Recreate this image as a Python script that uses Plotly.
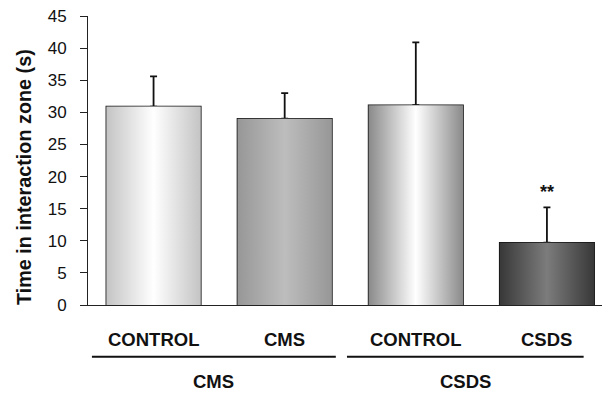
import plotly.graph_objects as go

# Group / condition labels and measured values (mean time, SEM)
conditions = ["CONTROL", "CMS", "CONTROL", "CSDS"]
groups = ["CMS", "CSDS"]
means = [30.9, 29.0, 31.1, 9.7]
sems = [4.7, 4.0, 9.8, 5.5]
significance = ["", "", "", "**"]
y_title = "Time in interaction zone (s)"

# Cylinder-like shading for each bar: edge colour, centre colour
edge_colors = ["#c4c4c4", "#979797", "#8a8a8a", "#383838"]
center_colors = ["#ffffff", "#bdbdbd", "#ffffff", "#7c7c7c"]

BAR_W = 0.72
xs = list(range(len(conditions)))
FONT = "Liberation Sans, Arial, sans-serif"
INK = "#111111"

fig = go.Figure()

# Gradient-filled bar bodies
for x, m, ec, cc in zip(xs, means, edge_colors, center_colors):
    x0, x1 = x - BAR_W / 2, x + BAR_W / 2
    fig.add_trace(go.Scatter(
        x=[x0, x1, x1, x0, x0], y=[0, 0, m, m, 0],
        mode="lines", fill="toself", line=dict(width=0),
        fillgradient=dict(type="horizontal",
                          colorscale=[[0, ec], [0.5, cc], [1, ec]]),
        hoverinfo="skip", showlegend=False,
    ))

# Outlines and upward SEM error bars
fig.add_trace(go.Bar(
    x=xs, y=means, width=BAR_W,
    marker=dict(color="rgba(0,0,0,0)", line=dict(color=INK, width=1.6)),
    error_y=dict(type="data", symmetric=False, array=sems,
                 arrayminus=[0] * len(sems), color=INK,
                 thickness=1.8, width=3.5),
    showlegend=False,
))

# Significance markers above error bars
for x, m, s, sig in zip(xs, means, sems, significance):
    if sig:
        fig.add_annotation(x=x, y=m + s, text=f"<b>{sig}</b>", showarrow=False,
                           yshift=15, font=dict(family=FONT, size=18, color=INK))

# Condition labels under each bar
for x, c in zip(xs, conditions):
    fig.add_annotation(x=x, y=-0.121, xref="x", yref="paper",
                       text=f"<b>{c}</b>", showarrow=False, yanchor="middle",
                       font=dict(family=FONT, size=18.5, color=INK))

# Group brackets and group labels below the condition labels
group_spans = [(-0.47, 1.39), (1.475, 3.28)]
for (a, b), g in zip(group_spans, groups):
    fig.add_shape(type="line", xref="x", yref="paper", x0=a, x1=b,
                  y0=-0.179, y1=-0.179, line=dict(color=INK, width=2))
    fig.add_annotation(x=(a + b) / 2, y=-0.266, xref="x", yref="paper",
                       text=f"<b>{g}</b>", showarrow=False, yanchor="middle",
                       font=dict(family=FONT, size=18.5, color=INK))

# Vertical y-axis title, set slightly below the plot's vertical centre
fig.add_annotation(x=-0.1245, y=0.443, xref="paper", yref="paper",
                   text=f"<b>{y_title}</b>", textangle=-90, showarrow=False,
                   xanchor="center", yanchor="middle",
                   font=dict(family=FONT, size=19.8, color=INK))

fig.update_layout(
    width=602, height=394,
    margin=dict(l=88, r=0, t=16, b=89),
    plot_bgcolor="white", paper_bgcolor="white",
    font=dict(family=FONT, size=17, color=INK),
    xaxis=dict(
        range=[-0.5, 3.42], showticklabels=False,
        showgrid=False, zeroline=False, showline=True,
        linecolor="#222222", linewidth=1, ticks="",
    ),
    yaxis=dict(
        range=[0, 45], tickmode="linear", tick0=0, dtick=5,
        showgrid=False, zeroline=False, showline=True,
        linecolor="#222222", linewidth=1, ticks="outside", ticklen=7,
        tickcolor="#222222", ticklabelstandoff=10,
        tickfont=dict(family=FONT, size=17, color=INK),
    ),
)

fig.write_html("out.html")
